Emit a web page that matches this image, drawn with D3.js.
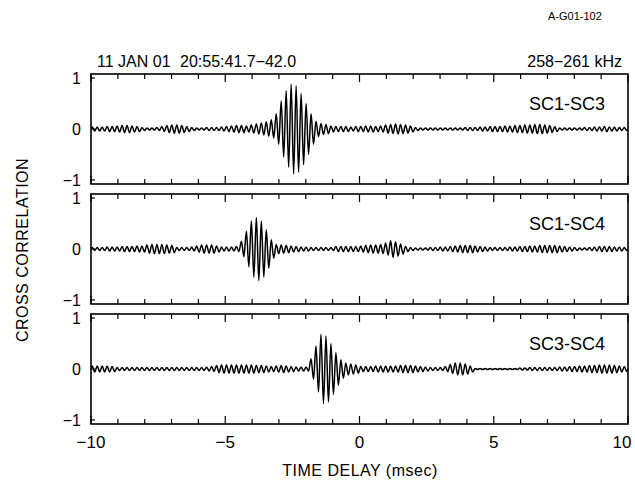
<!DOCTYPE html>
<html>
<head>
<meta charset="utf-8">
<script src="https://cdn.jsdelivr.net/npm/d3@7"></script>
<style>
  body { margin: 0; background: #fff; }
  svg { display: block; font-family: "Liberation Sans", "DejaVu Sans", sans-serif; }
</style>
</head>
<body>
<svg id="chart"></svg>
<script>
// time-delay range and oscillation period (msec)
const xDomain = [-10, 10];
const xTicksMajor = [-10, -5, 0, 5, 10];
const yTicks = [-1, 0, 1];
const cyclePeriod = 0.1852;   // ~108 cycles across 20 ms

const pairLabels = ["SC1-SC3", "SC1-SC4", "SC3-SC4"];

// amplitude of each oscillation cycle, left to right (one value per cycle)
const ampSC1SC3 = [
  0.04,0.04,0.04,0.05,0.05, 0.06,0.07,0.07,0.06,0.05,
  0.03,0.02,0.02,0.03, 0.05,0.07,0.08,0.08,0.07,0.05,
  0.03,0.02,0.02,0.03,0.03,0.03, 0.04,0.05,0.06,0.07,0.07,0.06,0.08,
  0.10,0.12,0.14,0.18, 0.30,0.55,0.75,0.88,0.85,0.70,0.50,0.30,0.15,
  0.11,0.09,0.06,0.05, 0.05,0.05,0.04,0.05,0.05,0.06,0.06,0.05,0.06,
  0.08,0.09,0.10,0.09,0.08,0.06, 0.03,0.02,0.02,
  0.02,0.02,0.02,0.02,0.02,0.02,0.02,0.03,
  0.03,0.03,0.04,0.04,0.05,0.05,0.05,0.06,0.06,0.07,0.07,0.08,0.08,0.09,0.09,0.08,0.07,0.05,
  0.02,0.02,0.02,0.02,0.02,0.03,0.03, 0.04,0.04,0.05,0.04,0.04,0.03,0.03
];

const ampSC1SC4 = [
  0.03,0.03,0.03,0.04,0.04,0.04,0.05,0.05,0.05,0.06,0.06,
  0.08,0.09,0.09,0.09,0.08,0.07, 0.03,0.03,0.03,0.04,
  0.06,0.08,0.08,0.08,0.06, 0.04,0.04,0.04,0.05,
  0.15,0.35,0.55,0.62,0.55,0.38,0.18,
  0.09,0.08,0.07,0.06,0.05,0.04,0.04, 0.03,0.03,0.03,0.03,0.03,
  0.05,0.05,0.05,0.05,0.05, 0.06,0.07,0.08,0.08,0.09,
  0.12,0.16,0.14,0.10, 0.05,0.03,0.02,0.02,0.02,0.03,0.03,0.04,0.04,
  0.05,0.06,0.07,0.07,0.07,0.06,0.05, 0.04,0.03,0.03,0.03,0.03,0.04,
  0.04,0.05,0.05,0.06,0.06,0.07,0.07,0.07,0.07,0.06,0.05,
  0.04,0.03,0.02,0.02,0.03, 0.04,0.05,0.05,0.05,0.04,0.04,0.03
];

const ampSC3SC4 = [
  0.06,0.06,0.06,0.06,0.05,
  0.03,0.03,0.03,0.03,0.03,0.03,0.03,0.03,0.03,0.03,0.03,0.03,0.03,0.03,0.03,0.03,0.03,0.03,0.04,0.05,
  0.07,0.08,0.08,0.08,0.08,0.08,0.08,0.08,0.07,0.07,
  0.06,0.05,0.06,0.07,0.06,0.05, 0.04,0.04,0.04,
  0.20,0.45,0.68,0.65,0.50,0.32,0.18, 0.12,0.10,0.08,
  0.05,0.05,0.05,0.06,0.06,0.06,0.06,0.06,0.07,0.07,0.07,0.06,0.05,0.04,
  0.03,0.03,0.03, 0.05,0.09,0.12,0.12,0.10,0.06,
  0.01,0.01,0.01,0.01,0.01,0.01,0.01,0.01,0.01,
  0.02,0.02,0.03,0.03,0.03,0.03,0.03,
  0.03,0.04,0.04,0.05,0.05,0.06,0.06,0.07,0.07,0.08,0.08,0.08,0.07,0.06,0.05
];

const series = [ampSC1SC3, ampSC1SC4, ampSC3SC4];

const width = 635, height = 481;
const left = 91, right = 628;
const panelTops = [74, 194, 314];
const panelH = 110;

const svg = d3.select("#chart")
  .attr("width", width)
  .attr("height", height)
  .attr("viewBox", [0, 0, width, height]);

const x = d3.scaleLinear().domain(xDomain).range([left, right]);

// turn cycle amplitudes into alternating crest / trough points
function toPoints(amps) {
  const pts = [[xDomain[0], 0]];
  amps.forEach((a, i) => {
    pts.push([xDomain[0] + (i + 0.25) * cyclePeriod, a]);
    pts.push([xDomain[0] + (i + 0.75) * cyclePeriod, -a]);
  });
  pts.push([xDomain[1], 0]);
  return pts.filter(p => p[0] <= xDomain[1]);
}

const minorTicks = d3.range(xDomain[0], xDomain[1] + 1, 1);

series.forEach((amps, p) => {
  const top = panelTops[p];
  const y = d3.scaleLinear().domain([-1.08, 1.08]).range([top + panelH, top]);
  const g = svg.append("g");

  g.append("clipPath").attr("id", "clip" + p)
    .append("rect").attr("x", left).attr("y", top).attr("width", right - left).attr("height", panelH);

  // waveform
  const line = d3.line()
    .x(d => x(d[0]))
    .y(d => y(d[1]))
    .curve(d3.curveMonotoneX);

  g.append("path")
    .datum(toPoints(amps))
    .attr("clip-path", `url(#clip${p})`)
    .attr("fill", "none")
    .attr("stroke", "#000")
    .attr("stroke-width", 1.5)
    .attr("d", line);

  // frame
  g.append("rect")
    .attr("x", left).attr("y", top)
    .attr("width", right - left).attr("height", panelH)
    .attr("fill", "none").attr("stroke", "#000").attr("stroke-width", 1.6);

  // inward ticks on top and bottom
  const tickLen = d => (d % 5 === 0 ? 8 : 5);
  g.selectAll(".tt").data(minorTicks).join("line")
    .attr("x1", d => x(d)).attr("x2", d => x(d))
    .attr("y1", top).attr("y2", d => top + tickLen(d))
    .attr("stroke", "#000").attr("stroke-width", 1.2);
  g.selectAll(".tb").data(minorTicks).join("line")
    .attr("x1", d => x(d)).attr("x2", d => x(d))
    .attr("y1", top + panelH).attr("y2", d => top + panelH - tickLen(d))
    .attr("stroke", "#000").attr("stroke-width", 1.2);

  // y ticks and labels
  g.selectAll(".yt").data(yTicks).join("line")
    .attr("x1", left).attr("x2", left + 4)
    .attr("y1", d => y(d)).attr("y2", d => y(d))
    .attr("stroke", "#000").attr("stroke-width", 1.2);
  g.selectAll(".yl").data(yTicks).join("text")
    .attr("x", left - 10)
    .attr("y", d => y(d) + 6)
    .attr("text-anchor", "end")
    .attr("font-size", 16)
    .text(d => d === -1 ? "\u22121" : d);

  // pair label
  g.append("text")
    .attr("x", 605).attr("y", top + 36)
    .attr("text-anchor", "end")
    .attr("font-size", 18)
    .text(pairLabels[p]);
});

// x tick labels under bottom panel (last one nudged to stay inside the page)
svg.append("g").selectAll("text").data(xTicksMajor).join("text")
  .attr("x", d => d === xDomain[1] ? x(d) - 6 : x(d))
  .attr("y", 448)
  .attr("text-anchor", "middle")
  .attr("font-size", 17)
  .text(d => d < 0 ? "\u2212" + Math.abs(d) : d);

// axis titles
svg.append("text")
  .attr("x", 360).attr("y", 476)
  .attr("text-anchor", "middle")
  .attr("font-size", 16)
  .attr("letter-spacing", 0.5)
  .text("TIME DELAY (msec)");

svg.append("text")
  .attr("transform", "translate(28,250) rotate(-90)")
  .attr("text-anchor", "middle")
  .attr("font-size", 16)
  .attr("letter-spacing", 0.5)
  .text("CROSS CORRELATION");

// header
svg.append("text").attr("x", 97).attr("y", 67).attr("font-size", 16).text("11 JAN 01");
svg.append("text").attr("x", 180).attr("y", 67).attr("font-size", 16).text("20:55:41.7\u221242.0");
svg.append("text").attr("x", 622).attr("y", 67).attr("text-anchor", "end").attr("font-size", 16).text("258\u2212261 kHz");
svg.append("text").attr("x", 548).attr("y", 20).attr("font-size", 11).text("A-G01-102");
</script>
</body>
</html>
